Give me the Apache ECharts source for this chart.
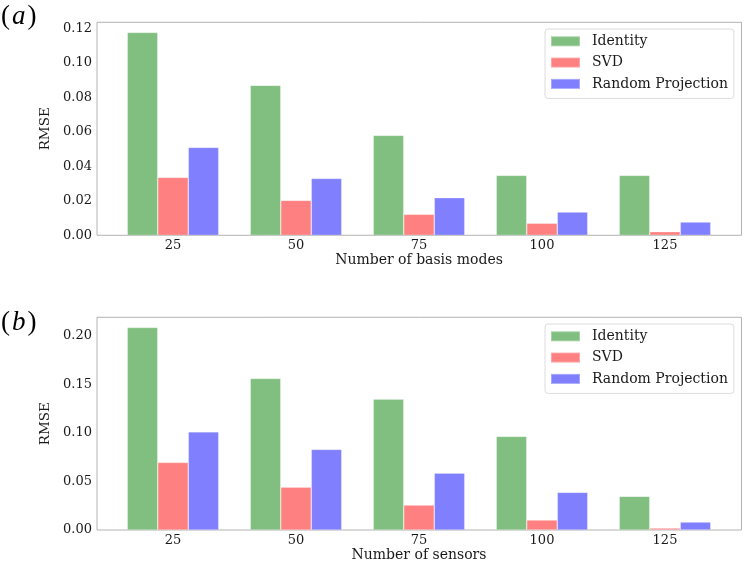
<!DOCTYPE html>
<html>
<head>
<meta charset="utf-8">
<script src="https://cdn.jsdelivr.net/npm/echarts@6/dist/echarts.min.js"></script>
<style>
  html, body { margin: 0; padding: 0; background: #fff; }
  #chart { width: 747px; height: 568px; }
</style>
</head>
<body>
<div id="chart"></div>
<script>
// x categories (shared by both panels)
const categories = ['25', '50', '75', '100', '125'];
const seriesNames = ['Identity', 'SVD', 'Random Projection'];
const colors = ['#80bf80', '#ff8080', '#8080ff'];

// (a) RMSE vs number of basis modes
const identityA = [0.1177, 0.0870, 0.0580, 0.0348, 0.0348];
const svdA = [0.0336, 0.0203, 0.0122, 0.0070, 0.0021];
const randomA = [0.0510, 0.0330, 0.0218, 0.0135, 0.0077];

// (b) RMSE vs number of sensors
const identityB = [0.2085, 0.1560, 0.1348, 0.0964, 0.0347];
const svdB = [0.0696, 0.0442, 0.0257, 0.0103, 0.0020];
const randomB = [0.1011, 0.0830, 0.0586, 0.0388, 0.0082];

const font = 'DejaVu Serif';
const chart = echarts.init(document.getElementById('chart'));

function tickFmt(step) {
    return function (v) {
        var k = v / step;
        if (Math.abs(k - Math.round(k)) > 1e-6) return '';
        return v.toFixed(2);
    };
}

function xAxisFor(gridIndex, name) {
    return {
        gridIndex: gridIndex,
        type: 'category',
        data: categories,
        axisLine: { show: false },
        axisTick: { show: false },
        axisLabel: { fontFamily: font, fontSize: 13, color: '#1a1a1a', margin: 4 },
        name: name,
        nameLocation: 'middle',
        nameGap: 16,
        nameTextStyle: { fontFamily: font, fontSize: 14, color: '#1a1a1a' }
    };
}

function yAxisFor(gridIndex, max, step) {
    return {
        gridIndex: gridIndex,
        type: 'value',
        min: 0,
        max: max,
        interval: step,
        offset: 14.5,
        axisLine: { show: false },
        axisTick: { show: false },
        splitLine: { show: false },
        axisLabel: { fontFamily: font, fontSize: 13, color: '#1a1a1a', margin: 5, formatter: tickFmt(step) },
        name: 'RMSE',
        nameLocation: 'middle',
        nameRotate: 90,
        nameGap: 35,
        nameTextStyle: { fontFamily: font, fontSize: 13.5, color: '#1a1a1a' }
    };
}

function barSeries(name, data, color, axisIndex) {
    return {
        name: name,
        type: 'bar',
        xAxisIndex: axisIndex,
        yAxisIndex: axisIndex,
        data: data,
        barWidth: 30.5,
        barGap: '0%',
        itemStyle: { color: color, borderColor: 'rgba(255,255,255,0.3)', borderWidth: 0.7 }
    };
}

function legendFor(top) {
    return {
        orient: 'vertical',
        left: 545,
        top: top,
        data: seriesNames,
        icon: 'rect',
        itemWidth: 29,
        itemHeight: 10,
        itemGap: 6.3,
        padding: [4.8, 6, 7, 5],
        backgroundColor: '#fff',
        borderColor: '#dcdcdc',
        borderWidth: 1,
        borderRadius: 3,
        selectedMode: false,
        textStyle: { fontFamily: font, fontSize: 14, color: '#1a1a1a', lineHeight: 15, padding: [0, 0, 0, 7] }
    };
}

function panelLabel(letter, top) {
    return {
        text: '{p|(}{i|' + letter + '}{p|)}',
        left: 1,
        top: top,
        padding: 0,
        textStyle: {
            fontWeight: 'normal',
            rich: {
                p: { fontFamily: 'Liberation Serif', fontSize: 27, fontWeight: 'normal', color: '#000' },
                i: { fontFamily: 'Liberation Serif', fontSize: 27, fontStyle: 'italic', fontWeight: 'normal', color: '#000', padding: [0, 2, 0, 2] }
            }
        }
    };
}

chart.setOption({
    animation: false,
    backgroundColor: '#fff',
    title: [panelLabel('a', 3), panelLabel('b', 309)],
    legend: [legendFor(29), legendFor(324)],
    grid: [
        { left: 111.5, right: 20.5, top: 22.3, bottom: 332.7 },
        { left: 97, right: 5.5, top: 22.3, bottom: 332.7, show: true, borderColor: '#b3b3b3', borderWidth: 1, backgroundColor: 'transparent' },
        { left: 111.5, right: 20.5, top: 317.3, bottom: 38 },
        { left: 97, right: 5.5, top: 317.3, bottom: 38, show: true, borderColor: '#b3b3b3', borderWidth: 1, backgroundColor: 'transparent' }
    ],
    xAxis: [xAxisFor(0, 'Number of basis modes'), xAxisFor(2, 'Number of sensors')],
    yAxis: [yAxisFor(0, 0.1236, 0.02), yAxisFor(2, 0.219, 0.05)],
    series: [
        barSeries(seriesNames[0], identityA, colors[0], 0),
        barSeries(seriesNames[1], svdA, colors[1], 0),
        barSeries(seriesNames[2], randomA, colors[2], 0),
        barSeries(seriesNames[0], identityB, colors[0], 1),
        barSeries(seriesNames[1], svdB, colors[1], 1),
        barSeries(seriesNames[2], randomB, colors[2], 1)
    ]
});
</script>
</body>
</html>
